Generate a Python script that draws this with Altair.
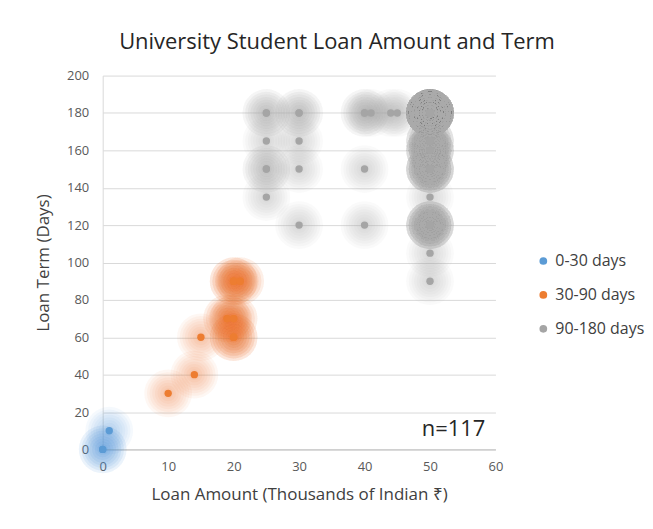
import altair as alt
import pandas as pd
import math

# ---- data ----
amounts = [0, 1,
           10, 14, 15, 19, 20, 20, 20, 21,
           25, 25, 25, 25, 30, 30, 30, 30, 40, 41, 40, 40, 44, 45,
           50, 50, 50, 50, 50, 50, 50, 50]
terms = [0, 10,
         30, 40, 60, 70, 70, 60, 90, 90,
         180, 165, 150, 135, 180, 165, 150, 120, 180, 180, 150, 120, 180, 180,
         180, 165, 160, 150, 135, 120, 105, 90]
counts = [2, 1,
          1, 1, 1, 2, 2, 3, 3, 2,
          2, 1, 2, 1, 2, 1, 1, 1, 2, 1, 1, 1, 1, 1,
          45, 6, 8, 10, 1, 9, 1, 1]
groups = ["0-30 days"] * 2 + ["30-90 days"] * 8 + ["90-180 days"] * 22
categories = ["0-30 days", "30-90 days", "90-180 days"]
colors = ["#5B9BD5", "#ED7D31", "#A5A5A5"]
x_ticks = [0, 10, 20, 30, 40, 50, 60]
y_ticks = [0, 20, 40, 60, 80, 100, 120, 140, 160, 180, 200]
n_label = "n=117"

base_df = pd.DataFrame({"amount": amounts, "term": terms, "count": counts, "group": groups})
df = base_df.loc[base_df.index.repeat(base_df["count"])].reset_index(drop=True)

xs = alt.Scale(domain=[0, 60], nice=False)
ys = alt.Scale(domain=[0, 200], nice=False)
cs = alt.Scale(domain=categories, range=colors)

x_axis = alt.Axis(values=x_ticks, title="Loan Amount (Thousands of Indian ₹)",
                  grid=False, ticks=False, domainColor="#BFBFBF",
                  labelOverlap=False, labelFlush=False, labelPadding=11, titlePadding=13)
y_axis = alt.Axis(values=y_ticks, title="Loan Term (Days)",
                  grid=True, gridColor="#D9D9D9", ticks=False,
                  labelOverlap=False, labelFlush=False,
                  domainColor="#D9D9D9", labelPadding=14, titlePadding=14)
x_enc = alt.X("amount:Q", scale=xs, axis=x_axis)
y_enc = alt.Y("term:Q", scale=ys, axis=y_axis)

glow_radii = [27, 24, 21, 18, 15, 12, 9, 6]
layers = []
for r in glow_radii:
    layers.append(
        alt.Chart(df).mark_circle(size=math.pi * r * r, opacity=0.06).encode(
            x=x_enc, y=y_enc,
            color=alt.Color("group:N", scale=cs, legend=None),
        )
    )

dots = alt.Chart(df).mark_circle(size=55, opacity=1).encode(
    x=x_enc, y=y_enc,
    color=alt.Color("group:N", scale=cs,
                    legend=alt.Legend(title=None, orient="none", legendX=434, legendY=178,
                                      labelFontSize=16, labelColor="#404040",
                                      symbolSize=60, symbolType="circle",
                                      rowPadding=18, labelOffset=4,
                                      labelFont="Open Sans", labelLimit=200)),
)

ann = alt.Chart(pd.DataFrame({"amount": [53.6], "term": [11], "t": [n_label]})).mark_text(
    fontSize=22, color="#262626", font="Open Sans"
).encode(x=x_enc, y=y_enc, text="t:N")

chart = alt.layer(*layers, dots, ann).resolve_legend(color="independent").properties(
    width=394, height=375,
    padding={"left": 95, "top": 67, "right": 150, "bottom": 71},
    autosize=alt.AutoSizeParams(type="none"),
    title=alt.TitleParams("University Student Loan Amount and Term", fontSize=22,
                          font="Open Sans", fontWeight="normal", color="#262626",
                          anchor="middle", dx=38, offset=16),
).configure_view(stroke=None).configure_axis(
    labelFont="Open Sans", labelFontSize=13, labelColor="#595959",
    titleFont="Open Sans", titleFontSize=17, titleColor="#404040", titleFontWeight="normal",
)

chart.save("out.html", embed_options={"renderer": "svg", "actions": False})
